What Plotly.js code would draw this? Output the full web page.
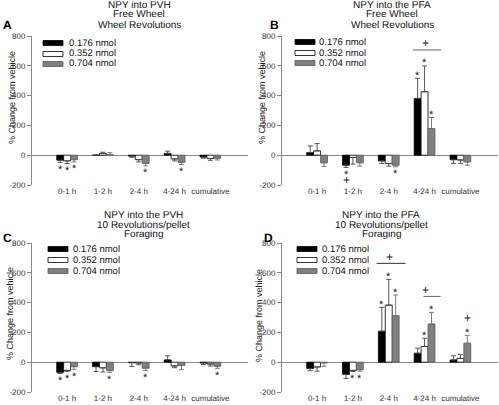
<!DOCTYPE html>
<html>
<head>
<meta charset="utf-8">
<script src="https://cdn.plot.ly/plotly-3.0.1.min.js"></script>
<style>html,body{margin:0;padding:0;background:#fff;}#chart{width:499px;height:405px;}svg text{text-rendering:geometricPrecision;}</style>
</head>
<body>
<div id="chart"></div>
<script>
// ---------- data ----------
const categories = ["0-1 h", "1-2 h", "2-4 h", "4-24 h", "cumulative"];
const doses = ["0.176 nmol", "0.352 nmol", "0.704 nmol"];
const yTicks = [-200, 0, 200, 400, 600, 800];

// Panel A: NPY into PVH, Free Wheel, Wheel Revolutions
const aLow = [-33, 0, -6, 12, -12];
const aLowErr = [15, 0, 8, 15, 8];
const aMid = [-38, 12, -30, -25, -22];
const aMidErr = [18, 8, 15, 13, 12];
const aHigh = [-30, 3, -55, -48, -20];
const aHighErr = [15, 14, 17, 15, 12];
const aStars = [[0, 0], [1, 0], [2, 0], [2, 2], [2, 3]];

// Panel B: NPY into the PFA, Free Wheel, Wheel Revolutions
const bLow = [18, -67, -38, 381, -30];
const bLowErr = [44, 15, 18, 135, 25];
const bMid = [29, -15, -56, 426, -32];
const bMidErr = [49, 45, 17, 173, 24];
const bHigh = [-51, -51, -67, 179, -45];
const bHighErr = [25, 22, 11, 74, 22];
const bStars = [[0, 1], [2, 2], [0, 3], [1, 3], [2, 3]];

// Panel C: NPY into the PVH, 10 Revolutions/pellet, Foraging
const cLow = [-68, -30, -3, 15, -5];
const cLowErr = [8, 32, 25, 28, 10];
const cMid = [-55, -38, -5, -25, -12];
const cMidErr = [8, 28, 12, 12, 14];
const cHigh = [-30, -56, -40, -22, -27];
const cHighErr = [18, 12, 16, 28, 14];
const cStars = [[0, 0], [1, 0], [2, 0], [2, 1], [2, 2], [2, 4]];

// Panel D: NPY into the PFA, 10 Revolutions/pellet, Foraging
const dLow = [-42, -82, 208, 60, 15];
const dLowErr = [15, 27, 160, 34, 28];
const dMid = [-32, -55, 383, 105, 25];
const dMidErr = [28, 7, 173, 56, 27];
const dHigh = [-5, -50, 312, 256, 127];
const dHighErr = [22, 10, 139, 78, 53];
const dStars = [[1, 1], [2, 1], [0, 2], [1, 2], [2, 2], [1, 3], [2, 3], [2, 4]];

const aTitle = ["NPY into PVH", "Free Wheel", "Wheel Revolutions"];
const bTitle = ["NPY into the PFA", "Free Wheel", "Wheel Revolutions"];
const cTitle = ["NPY into the PVH", "10 Revolutions/pellet", "Foraging"];
const dTitle = ["NPY into the PFA", "10 Revolutions/pellet", "Foraging"];
const yAxisTitle = "% Change from vehicle";

// ---------- styling ----------
const W = 499, H = 405;
const px = v => v / W;
const py = v => 1 - v / H;
const FONT = "Liberation Sans, Arial, sans-serif";
const fills = ["#000000", "#ffffff", "#808080"];
const outlines = ["#000000", "#000000", "#5a5a5a"];
const errColors = ["#444444", "#444444", "#6e6e6e"];
const BARGAP = 0.42;
const barW = (1 - BARGAP) / 3;

const panels = [
  { n: "", vals: [aLow, aMid, aHigh], errs: [aLowErr, aMidErr, aHighErr], stars: aStars,
    title: aTitle, letter: "A", xd: [32, 248], yd: [36, 185], titleX: 139, titleY: [5, 15, 25],
    letterXY: [7, 25], leg: { x: 43, tx: 67, ys: [43, 54, 64] }, yt: [12, 98],
    sig: [], plus: [] },
  { n: "2", vals: [bLow, bMid, bHigh], errs: [bLowErr, bMidErr, bHighErr], stars: bStars,
    title: bTitle, letter: "B", xd: [282, 498], yd: [36, 185], titleX: 392, titleY: [5, 15, 25],
    letterXY: [274, 25], leg: { x: 295, tx: 317, ys: [42, 53, 63] }, yt: [262, 98],
    sig: [{ c: 3, x0: -0.33, x1: 0.47, color: "#666" }], plus: [{ s: 0, c: 1 }] },
  { n: "3", vals: [cLow, cMid, cHigh], errs: [cLowErr, cMidErr, cHighErr], stars: cStars,
    title: cTitle, letter: "C", xd: [32, 248], yd: [243, 392], titleX: 143, titleY: [215, 225, 234.5],
    letterXY: [7, 238], leg: { x: 48, tx: 71, ys: [249, 260, 271] }, yt: [10, 314],
    sig: [], plus: [] },
  { n: "4", vals: [dLow, dMid, dHigh], errs: [dLowErr, dMidErr, dHighErr], stars: dStars,
    title: dTitle, letter: "D", xd: [282, 498], yd: [243, 392], titleX: 381, titleY: [215, 225, 234.5],
    letterXY: [268, 238], leg: { x: 297, tx: 320, ys: [249, 260, 271] }, yt: [259, 316],
    sig: [{ c: 2, x0: -0.34, x1: 0.47, color: "#333" }, { c: 3, x0: -0.03, x1: 0.45, color: "#666" }],
    plus: [{ s: 2, c: 4 }] }
];

const traces = [];
const annotations = [];
const shapes = [];
const layout = {
  width: W, height: H, margin: { l: 0, r: 0, t: 0, b: 0 },
  paper_bgcolor: "#fff", plot_bgcolor: "#fff",
  barmode: "group", bargap: BARGAP, bargroupgap: 0, showlegend: false,
  font: { family: FONT, color: "#222" }
};

const xIdx = categories.map((_, i) => i);
const UNIT = 149 / 1000; // px per data unit

panels.forEach(p => {
  const xa = "x" + p.n, ya = "y" + p.n;
  p.vals.forEach((vals, s) => {
    const errs = p.errs[s];
    traces.push({
      type: "bar", x: xIdx, y: vals, name: doses[s], xaxis: xa, yaxis: ya,
      marker: { color: fills[s], line: { color: outlines[s], width: 0.8 } },
      error_y: {
        type: "data", symmetric: false,
        array: vals.map((v, i) => v >= 0 ? errs[i] : 0),
        arrayminus: vals.map((v, i) => v < 0 ? errs[i] : 0),
        color: errColors[s], thickness: 0.9, width: 2.5
      },
      hoverinfo: "skip"
    });
  });
  layout["xaxis" + p.n] = {
    domain: [px(p.xd[0]), px(p.xd[1])], anchor: ya, range: [-0.98, 5.05],
    tickmode: "array", tickvals: xIdx, ticktext: categories,
    showline: false, showgrid: false, zeroline: false,
    ticks: "",
    tickfont: { size: 8, family: FONT, color: "#333" }, fixedrange: true
  };
  layout["yaxis" + p.n] = {
    domain: [py(p.yd[1]), py(p.yd[0])], anchor: xa, range: [-200, 800],
    tickmode: "array", tickvals: yTicks, ticktext: yTicks.map(v => String(v)),
    showline: true, linecolor: "#888", linewidth: 1,
    ticks: "outside", ticklen: 4, tickcolor: "#888", tickwidth: 1,
    zeroline: true, zerolinecolor: "#888", zerolinewidth: 1, showgrid: false,
    tickfont: { size: 8, family: FONT, color: "#333" }, fixedrange: true
  };

  // titles
  p.title.forEach((t, i) => {
    annotations.push({ text: t, xref: "paper", yref: "paper", x: px(p.titleX), y: py(p.titleY[i]),
      xanchor: "center", yanchor: "middle", showarrow: false,
      font: { size: 10, family: FONT, color: "#111" } });
  });
  annotations.push({ text: "<b>" + p.letter + "</b>", xref: "paper", yref: "paper",
    x: px(p.letterXY[0]), y: py(p.letterXY[1]), xanchor: "center", yanchor: "middle",
    showarrow: false, font: { size: 12, family: FONT, color: "#000" } });
  annotations.push({ text: yAxisTitle, xref: "paper", yref: "paper", x: px(p.yt[0]), y: py(p.yt[1]),
    xanchor: "center", yanchor: "middle", textangle: -90, showarrow: false,
    font: { size: 9, family: FONT, color: "#222" } });

  // legend
  doses.forEach((d, s) => {
    const yc = p.leg.ys[s];
    shapes.push({ type: "rect", xref: "paper", yref: "paper",
      x0: px(p.leg.x), x1: px(p.leg.x + 20), y0: py(yc + 2.5), y1: py(yc - 2.5),
      fillcolor: fills[s], line: { color: outlines[s], width: 0.8 } });
    annotations.push({ text: d, xref: "paper", yref: "paper", x: px(p.leg.tx), y: py(yc),
      xanchor: "left", yanchor: "middle", showarrow: false,
      font: { size: 9.5, family: FONT, color: "#111" } });
  });

  // significance stars
  p.stars.forEach(([s, c]) => {
    const v = p.vals[s][c], e = p.errs[s][c];
    const sign = v >= 0 ? 1 : -1;
    annotations.push({ text: "*", xref: xa, yref: ya, x: c + (s - 1) * barW, y: v + sign * e,
      xanchor: "center", yanchor: "middle", yshift: sign * 5 - 2.5, showarrow: false,
      font: { size: 11, family: FONT, color: "#222" } });
  });

  // plus signs beyond a star
  p.plus.forEach(({ s, c }) => {
    const v = p.vals[s][c], e = p.errs[s][c];
    const sign = v >= 0 ? 1 : -1;
    annotations.push({ text: "+", xref: xa, yref: ya, x: c + (s - 1) * barW, y: v + sign * e,
      xanchor: "center", yanchor: "middle", yshift: sign * (sign > 0 ? 17 : 13), showarrow: false,
      font: { size: 12, family: FONT, color: "#222" } });
  });

  // group brackets with plus
  p.sig.forEach(g => {
    let top = -Infinity;
    p.vals.forEach((vals, s) => { top = Math.max(top, vals[g.c] + p.errs[s][g.c]); });
    const ly = top + 16 / UNIT;
    shapes.push({ type: "line", xref: xa, yref: ya, x0: g.c + g.x0, x1: g.c + g.x1, y0: ly, y1: ly,
      line: { color: g.color, width: 1 } });
    annotations.push({ text: "+", xref: xa, yref: ya, x: g.c + 0.02, y: ly,
      xanchor: "center", yanchor: "middle", yshift: 6.5, showarrow: false,
      font: { size: 12, family: FONT, color: "#222" } });
  });
});

layout.annotations = annotations;
layout.shapes = shapes;
Plotly.newPlot("chart", traces, layout, { staticPlot: true, displayModeBar: false });
</script>
</body>
</html>
